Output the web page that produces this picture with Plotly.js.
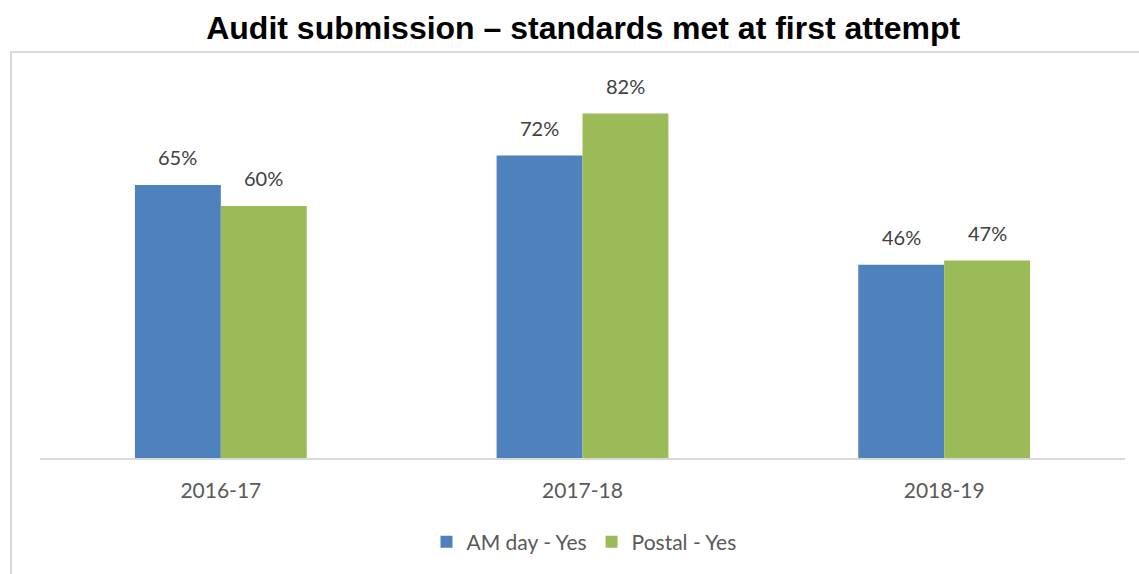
<!DOCTYPE html>
<html>
<head>
<meta charset="utf-8">
<script src="https://cdn.plot.ly/plotly-3.0.1.min.js"></script>
<style>html,body{margin:0;padding:0;background:#fff;}#chart{width:1139px;height:574px;}</style>
</head>
<body>
<div id="chart"></div>
<script>
const categories = ['2016-17', '2017-18', '2018-19'];
const amDayYes = [65, 72, 46];
const postalYes = [60, 82, 47];
const seriesNames = ['AM day - Yes', 'Postal - Yes'];
const colors = ['#4f81bd', '#9bbb59'];

const textColor = '#404040';
const labelFont = {family: 'Lato, "Open Sans", sans-serif', size: 20, color: textColor};

const traces = [amDayYes, postalYes].map((vals, i) => ({
  type: 'bar',
  name: seriesNames[i],
  x: categories,
  y: vals,
  marker: {color: colors[i], line: {width: 0}},
  hoverinfo: 'skip'
}));

// Plot area: x 40..1125 px, y baseline 458, range 0..90 -> top at 80
const plotL = 40, plotR = 1125, plotB = 458, plotT = 80;
const W = 1139, H = 574;
const pw = plotR - plotL, ph = plotB - plotT;
const px = v => (v - plotL) / pw;
const py = v => (plotB - v) / ph;

const barPx = pw / categories.length * (1 - 0.525) / 2;
const annotations = [];
[amDayYes, postalYes].forEach((vals, i) => {
  vals.forEach((v, j) => {
    annotations.push({
      x: categories[j], y: v, xref: 'x', yref: 'y',
      text: v + '%', showarrow: false,
      xshift: (i === 0 ? -1 : 1) * barPx / 2,
      yanchor: 'bottom', yshift: 14,
      font: labelFont
    });
  });
});

const layout = {
  width: W, height: H,
  margin: {l: plotL, r: W - plotR, t: plotT, b: H - plotB, pad: 0},
  paper_bgcolor: '#ffffff', plot_bgcolor: '#ffffff',
  title: {
    text: '<b>Audit submission – standards met at first attempt</b>',
    font: {family: '"Liberation Sans", Arial, sans-serif', size: 32, color: '#000000'},
    x: 0.512, xanchor: 'center', y: 1 - 28 / H, yanchor: 'middle'
  },
  barmode: 'group',
  bargap: 0.525,
  bargroupgap: 0,
  xaxis: {
    type: 'category',
    showline: true, linecolor: '#d9d9d9', linewidth: 2,
    ticks: '', showgrid: false, zeroline: false,
    tickfont: {family: 'Lato, "Open Sans", sans-serif', size: 21, color: '#595959'},
    ticklabelstandoff: 13
  },
  yaxis: {
    range: [0, 90], visible: false, showgrid: false, zeroline: false, fixedrange: true
  },
  showlegend: true,
  legend: {
    orientation: 'h', x: px(584), xanchor: 'center', y: py(542), yanchor: 'middle',
    font: {family: 'Lato, "Open Sans", sans-serif', size: 21, color: '#595959'},
    itemclick: false, itemdoubleclick: false, traceorder: 'normal',
    bgcolor: 'rgba(0,0,0,0)'
  },
  shapes: [{
    type: 'rect', xref: 'paper', yref: 'paper',
    x0: px(11), x1: px(1150), y0: py(52), y1: py(590),
    line: {color: '#d9d9d9', width: 2}, fillcolor: 'rgba(0,0,0,0)', layer: 'below'
  }],
  annotations: annotations
};

Plotly.newPlot('chart', traces, layout, {displayModeBar: false, staticPlot: true});
</script>
</body>
</html>
